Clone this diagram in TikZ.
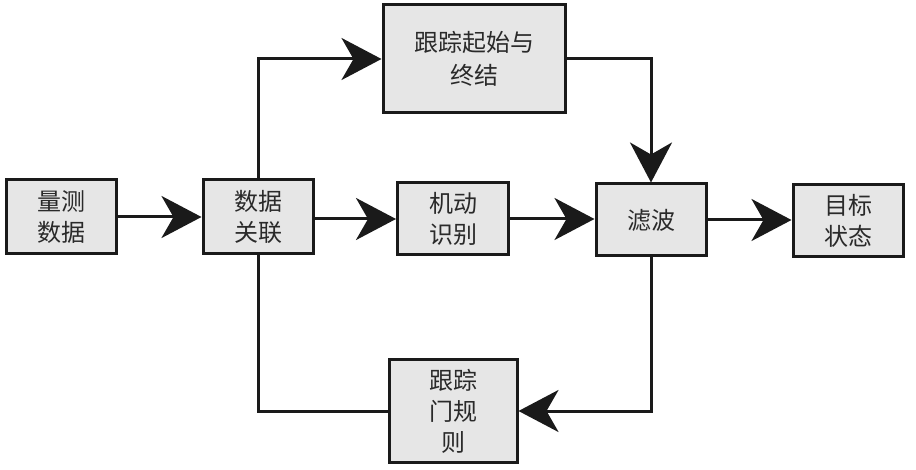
\documentclass[tikz,border=0pt]{standalone}
\usepackage{fontspec}
\usepackage{tikz}
\usetikzlibrary{arrows.meta,positioning}
\newfontfamily\cjk{Noto Sans CJK SC}
\definecolor{boxgray}{HTML}{E6E6E6}
\definecolor{inkblack}{HTML}{1A1A1A}
\definecolor{textgray}{HTML}{2A2A2A}

\begin{document}
\begin{tikzpicture}[
  x=1pt, y=-1pt,
  font=\cjk\fontsize{24}{31}\selectfont,
  block/.style={
    draw=inkblack,
    fill=boxgray,
    text=textgray,
    line width=3pt,
    inner sep=4pt,
    align=center
  },
  flow/.style={
    draw=inkblack,
    line width=3pt
  },
  arrowflow/.style={
    flow,
    -{Stealth[length=40pt,width=42pt,inset=12pt]}
  }
]
  \useasboundingbox (0,0) rectangle (916,470);

  % Main row of blocks
  \node[block, minimum width=110pt, minimum height=74pt] (meas) at (61,217) {量测\\数据};
  \node[block, minimum width=110pt, minimum height=74pt] (assoc) at (258,217) {数据\\关联};
  \node[block, minimum width=111pt, minimum height=72pt] (maneuver) at (453,219) {机动\\识别};
  \node[block, minimum width=110pt, minimum height=72pt] (filter) at (651,220) {滤波};
  \node[block, minimum width=110pt, minimum height=72pt] (target) at (848,221) {目标\\状态};

  % Upper and lower branches
  \node[block, minimum width=182pt, minimum height=108pt] (track) at (474,59) {跟踪起始与\\[2pt]终结};
  \node[block, minimum width=128pt, minimum height=102pt] (gate) at (453,411) {跟踪\\门规\\则};

  % Connectors
  \draw[arrowflow] (meas.east) -- (meas.east -| assoc.west);
  \draw[arrowflow] (assoc.east |- maneuver.west) -- (maneuver.west);
  \draw[arrowflow] (maneuver.east) -- (maneuver.east -| filter.west);
  \draw[arrowflow] (filter.east) -- (filter.east -| target.west);
  \draw[arrowflow] (assoc.north) |- (track.west);
  \draw[arrowflow] (track.east) -| (filter.north);
  \draw[arrowflow] (filter.south) |- (gate.east);
  \draw[flow] (gate.west) -| (assoc.south);

\end{tikzpicture}
\end{document}
